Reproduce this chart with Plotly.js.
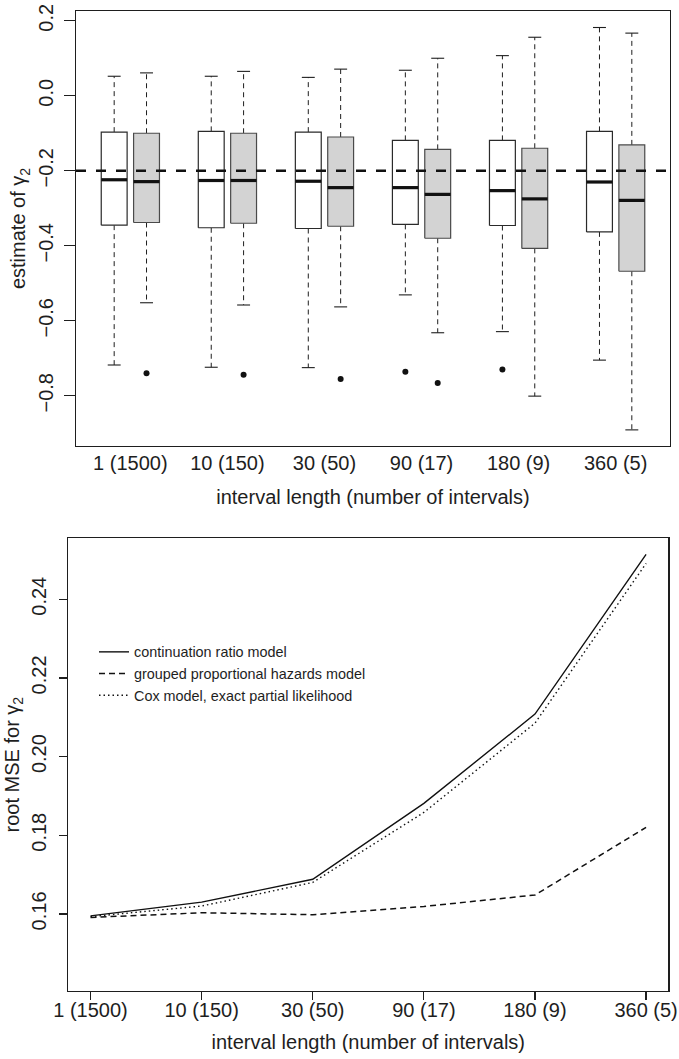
<!DOCTYPE html>
<html>
<head>
<meta charset="utf-8">
<script src="https://cdn.plot.ly/plotly-3.0.1.min.js"></script>
<style>
  html, body { margin: 0; padding: 0; background: #ffffff; }
  #chart { width: 679px; height: 1059px; }
</style>
</head>
<body>
<div id="chart"></div>
<script>
// Interval length (number of intervals) for each simulation setting
const intervalLabels = ['1 (1500)', '10 (150)', '30 (50)', '90 (17)', '180 (9)', '360 (5)'];

// Estimates of gamma_2: continuation ratio model (white boxes)
const crUpper  = [0.052, 0.052, 0.049, 0.068, 0.107, 0.182];
const crQ3     = [-0.097, -0.095, -0.097, -0.119, -0.119, -0.095];
const crMedian = [-0.224, -0.226, -0.228, -0.245, -0.253, -0.230];
const crQ1     = [-0.345, -0.352, -0.354, -0.343, -0.346, -0.363];
const crLower  = [-0.718, -0.724, -0.725, -0.531, -0.629, -0.705];
const crOutliers = [[], [], [], [-0.736], [-0.730], []];

// Estimates of gamma_2: grouped proportional hazards model (grey boxes)
const phUpper  = [0.061, 0.065, 0.071, 0.100, 0.156, 0.167];
const phQ3     = [-0.100, -0.100, -0.110, -0.143, -0.140, -0.131];
const phMedian = [-0.229, -0.226, -0.245, -0.263, -0.275, -0.279];
const phQ1     = [-0.338, -0.340, -0.348, -0.380, -0.407, -0.468];
const phLower  = [-0.552, -0.558, -0.563, -0.632, -0.801, -0.891];
const phOutliers = [[-0.740], [-0.744], [-0.755], [-0.766], [], []];

// True value of gamma_2
const trueGamma2 = -0.2;

// Root MSE for gamma_2 by model
const rmseContinuation = [0.1595, 0.1630, 0.1688, 0.1881, 0.2108, 0.2514];
const rmseGroupedPH    = [0.1591, 0.1603, 0.1598, 0.1619, 0.1648, 0.1820];
const rmseCoxExact     = [0.1593, 0.1620, 0.1680, 0.1858, 0.2085, 0.2491];

const legendNames = [
  'continuation ratio model',
  'grouped proportional hazards model',
  'Cox model, exact partial likelihood'
];

const FONT = 'Liberation Sans, Arial, Helvetica, sans-serif';
const INK = '#1e1e1e';

// ---- box plots (upper panel) ----
const traces = [];
const halfBox = 0.4;
const halfCap = 0.2;

function addBox(pos, lower, q1, med, q3, upper, outliers, fill, edge) {
  const base = { xaxis: 'x', yaxis: 'y', mode: 'lines', showlegend: false, hoverinfo: 'skip' };
  // whiskers
  traces.push(Object.assign({}, base, {
    x: [pos, pos, null, pos, pos],
    y: [q3, upper, null, q1, lower],
    line: { color: INK, width: 1, dash: '5px,4px' }
  }));
  // whisker caps
  traces.push(Object.assign({}, base, {
    x: [pos - halfCap, pos + halfCap, null, pos - halfCap, pos + halfCap],
    y: [upper, upper, null, lower, lower],
    line: { color: INK, width: 1.1 }
  }));
  // box
  traces.push(Object.assign({}, base, {
    x: [pos - halfBox, pos + halfBox, pos + halfBox, pos - halfBox, pos - halfBox],
    y: [q1, q1, q3, q3, q1],
    fill: 'toself',
    fillcolor: fill,
    line: { color: edge, width: 1.2 }
  }));
  // median
  traces.push(Object.assign({}, base, {
    x: [pos - halfBox, pos + halfBox],
    y: [med, med],
    line: { color: '#111111', width: 3.2 }
  }));
  if (outliers.length) {
    traces.push({
      xaxis: 'x', yaxis: 'y', mode: 'markers', showlegend: false, hoverinfo: 'skip',
      x: outliers.map(() => pos), y: outliers,
      marker: { color: '#111111', size: 6, symbol: 'circle' }
    });
  }
}

const groupCentres = [];
intervalLabels.forEach((lab, g) => {
  const left = 3 * g + 1, right = 3 * g + 2;
  groupCentres.push(3 * g + 1.5);
  addBox(left, crLower[g], crQ1[g], crMedian[g], crQ3[g], crUpper[g], crOutliers[g], '#ffffff', '#2a2a2a');
  addBox(right, phLower[g], phQ1[g], phMedian[g], phQ3[g], phUpper[g], phOutliers[g], '#d3d3d3', '#4a4a4a');
});

// ---- root MSE lines (lower panel) ----
const positions = intervalLabels.map((_, i) => i + 1);
traces.push({
  x: positions, y: rmseContinuation, xaxis: 'x2', yaxis: 'y2', mode: 'lines',
  name: legendNames[0], line: { color: '#111111', width: 1.4 }, hoverinfo: 'skip'
});
traces.push({
  x: positions, y: rmseGroupedPH, xaxis: 'x2', yaxis: 'y2', mode: 'lines',
  name: legendNames[1], line: { color: '#111111', width: 1.5, dash: '6px,4px' }, hoverinfo: 'skip'
});
traces.push({
  x: positions, y: rmseCoxExact, xaxis: 'x2', yaxis: 'y2', mode: 'lines',
  name: legendNames[2], line: { color: '#111111', width: 1.4, dash: '1.5px,3px' }, hoverinfo: 'skip'
});

const W = 679, H = 1059;
const frameAxis = {
  showline: true, mirror: true, linecolor: INK, linewidth: 1.3,
  showgrid: false, zeroline: false, fixedrange: true,
  tickfont: { family: FONT, size: 20, color: INK }
};

const layout = {
  width: W, height: H,
  margin: { l: 0, r: 0, t: 0, b: 0 },
  paper_bgcolor: '#ffffff', plot_bgcolor: '#ffffff',
  font: { family: FONT, color: INK },
  showlegend: true,
  legend: {
    x: 94 / W, y: 1 - 636 / H, xanchor: 'left', yanchor: 'top',
    bgcolor: 'rgba(0,0,0,0)', borderwidth: 0,
    font: { family: FONT, size: 14.4, color: INK },
    tracegroupgap: 0
  },
  xaxis: Object.assign({}, frameAxis, {
    domain: [76 / W, 670 / W], range: [-0.18, 18.18],
    tickmode: 'array', tickvals: groupCentres, ticktext: intervalLabels,
    ticks: '', ticklabelstandoff: -1,
    title: { text: 'interval length (number of intervals)', font: { family: FONT, size: 20, color: INK }, standoff: 16 },
    anchor: 'y'
  }),
  yaxis: Object.assign({}, frameAxis, {
    domain: [1 - 446 / H, 1 - 11 / H], range: [-0.934, 0.226],
    tickmode: 'array', tickvals: [-0.8, -0.6, -0.4, -0.2, 0.0, 0.2],
    tickformat: '.1f', ticks: 'outside', ticklen: 11, tickcolor: INK, tickwidth: 1.2,
    tickangle: -90, ticklabelstandoff: 3,
    title: { text: 'estimate of γ<sub>2</sub>', font: { family: FONT, size: 20, color: INK }, standoff: 3 },
    anchor: 'x'
  }),
  xaxis2: Object.assign({}, frameAxis, {
    domain: [68.3 / W, 668.3 / W], range: [0.8, 6.2],
    tickmode: 'array', tickvals: positions, ticktext: intervalLabels,
    ticks: 'outside', ticklen: 8, tickcolor: INK, tickwidth: 1.2,
    ticklabelstandoff: -7,
    title: { text: 'interval length (number of intervals)', font: { family: FONT, size: 20, color: INK }, standoff: 14 },
    anchor: 'y2'
  }),
  yaxis2: Object.assign({}, frameAxis, {
    domain: [1 - 991 / H, 1 - 538.3 / H], range: [0.1404, 0.2555],
    tickmode: 'array', tickvals: [0.16, 0.18, 0.20, 0.22, 0.24],
    tickformat: '.2f', ticks: 'outside', ticklen: 8, tickcolor: INK, tickwidth: 1.2,
    tickangle: -90, ticklabelstandoff: 5,
    title: { text: 'root MSE for γ<sub>2</sub>', font: { family: FONT, size: 20, color: INK }, standoff: 3 },
    anchor: 'x2'
  }),
  shapes: [{
    type: 'line', xref: 'x domain', yref: 'y',
    x0: 0, x1: 1, y0: trueGamma2, y1: trueGamma2,
    line: { color: '#111111', width: 2.6, dash: '10px,10px' },
    layer: 'above'
  }]
};

Plotly.newPlot('chart', traces, layout, { staticPlot: true, displayModeBar: false });
</script>
</body>
</html>
